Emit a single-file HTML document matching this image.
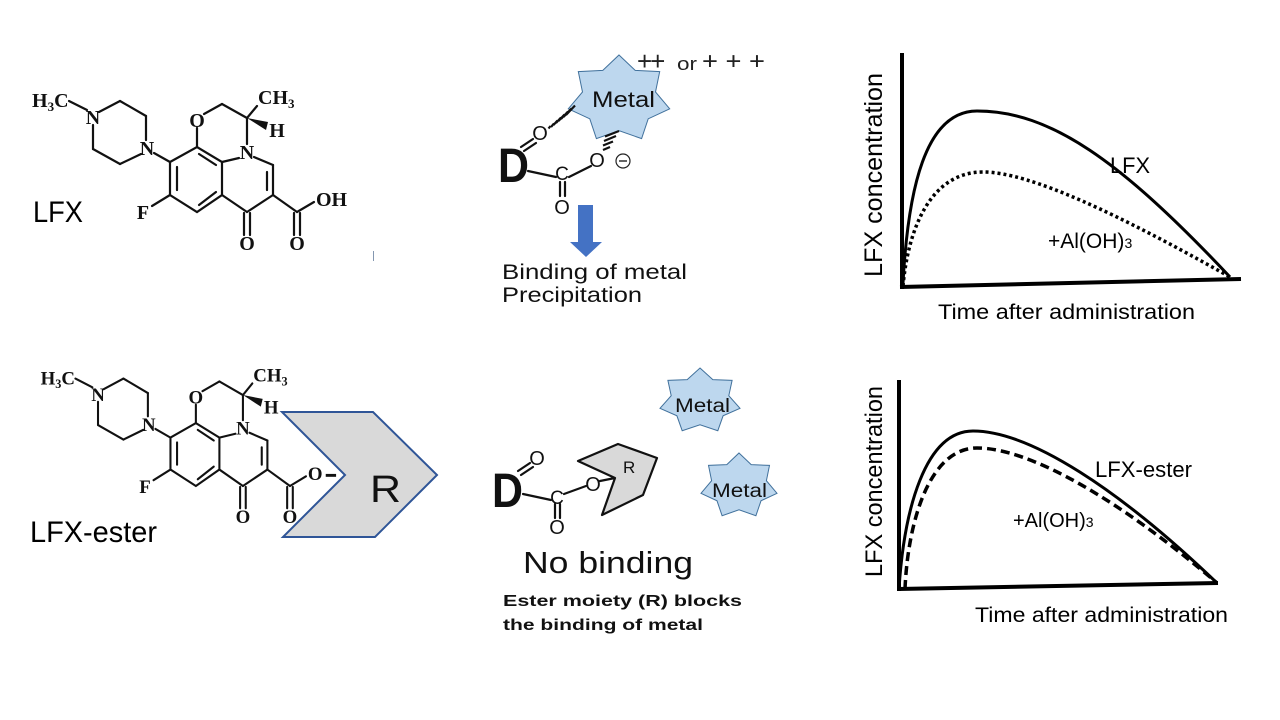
<!DOCTYPE html>
<html><head><meta charset="utf-8"><style>
html,body{margin:0;padding:0;background:#fff;}
svg{display:block;}
.s{font-family:"Liberation Sans",sans-serif;}
.a{font-family:"Liberation Serif",serif;font-weight:bold;font-size:20px;fill:#111;}
.b{stroke:#111;stroke-width:2.2;fill:none;stroke-linecap:round;}
</style></head><body>
<svg width="1280" height="720" viewBox="0 0 1280 720" xmlns="http://www.w3.org/2000/svg">
<rect width="1280" height="720" fill="#fff"/>

<!-- ============ TOP MOLECULE (LFX) ============ -->
<g>
 <g class="b">
  <line x1="69" y1="101" x2="87" y2="110"/>
  <line x1="99" y1="112" x2="120" y2="101"/>
  <line x1="120" y1="101" x2="146" y2="116"/>
  <line x1="146" y1="116" x2="146" y2="140"/>
  <line x1="141" y1="154" x2="120" y2="164"/>
  <line x1="120" y1="164" x2="93" y2="149"/>
  <line x1="93" y1="149" x2="93" y2="125"/>
  <line x1="154" y1="153" x2="170" y2="162"/>
  <polygon points="170,162 197,147 222,162 222,195 197,212 170,195"/>
  <line x1="177" y1="167" x2="177" y2="190"/>
  <line x1="199" y1="154" x2="216" y2="165"/>
  <line x1="199" y1="205" x2="216" y2="192"/>
  <line x1="170" y1="195" x2="152" y2="206"/>
  <line x1="197" y1="147" x2="197" y2="128"/>
  <line x1="204" y1="114" x2="222" y2="104"/>
  <line x1="222" y1="104" x2="247" y2="118"/>
  <line x1="247" y1="118" x2="257" y2="106"/>
  <line x1="247" y1="118" x2="247" y2="144"/>
  <line x1="239" y1="158" x2="222" y2="162"/>
  <line x1="254" y1="157" x2="273" y2="165"/>
  <line x1="273" y1="165" x2="273" y2="195"/>
  <line x1="267" y1="172" x2="267" y2="190"/>
  <line x1="273" y1="195" x2="247" y2="212"/>
  <line x1="247" y1="212" x2="222" y2="195"/>
  <line x1="244" y1="213" x2="244" y2="235"/>
  <line x1="250" y1="213" x2="250" y2="235"/>
  <line x1="273" y1="195" x2="297" y2="212"/>
  <line x1="297" y1="212" x2="314" y2="202"/>
  <line x1="294" y1="213" x2="294" y2="235"/>
  <line x1="300" y1="213" x2="300" y2="235"/>
 </g>
 <polygon points="247,118 268,122 266,130" fill="#111"/>
 <text class="a" x="32" y="107">H<tspan font-size="13" dy="4">3</tspan><tspan dy="-4">C</tspan></text>
 <text class="a" x="93" y="124" text-anchor="middle">N</text>
 <text class="a" x="147" y="155" text-anchor="middle">N</text>
 <text class="a" x="197" y="127" text-anchor="middle">O</text>
 <text class="a" x="258" y="104">CH<tspan font-size="13" dy="4">3</tspan></text>
 <text class="a" x="277" y="137" text-anchor="middle">H</text>
 <text class="a" x="247" y="159" text-anchor="middle">N</text>
 <text class="a" x="143" y="219" text-anchor="middle">F</text>
 <text class="a" x="247" y="250" text-anchor="middle">O</text>
 <text class="a" x="297" y="250" text-anchor="middle">O</text>
 <text class="a" x="316" y="206">OH</text>
</g>
<line x1="373.5" y1="251" x2="373.5" y2="261" stroke="#8497b0" stroke-width="1"/>
<text class="s" x="33" y="222" font-size="30" textLength="50" lengthAdjust="spacingAndGlyphs">LFX</text>

<!-- ============ BOTTOM MOLECULE (LFX-ester) ============ -->
<g transform="translate(10.5,280.8) scale(0.941,0.968)">
 <g class="b">
  <line x1="69" y1="101" x2="87" y2="110"/>
  <line x1="99" y1="112" x2="120" y2="101"/>
  <line x1="120" y1="101" x2="146" y2="116"/>
  <line x1="146" y1="116" x2="146" y2="140"/>
  <line x1="141" y1="154" x2="120" y2="164"/>
  <line x1="120" y1="164" x2="93" y2="149"/>
  <line x1="93" y1="149" x2="93" y2="125"/>
  <line x1="154" y1="153" x2="170" y2="162"/>
  <polygon points="170,162 197,147 222,162 222,195 197,212 170,195"/>
  <line x1="177" y1="167" x2="177" y2="190"/>
  <line x1="199" y1="154" x2="216" y2="165"/>
  <line x1="199" y1="205" x2="216" y2="192"/>
  <line x1="170" y1="195" x2="152" y2="206"/>
  <line x1="197" y1="147" x2="197" y2="128"/>
  <line x1="204" y1="114" x2="222" y2="104"/>
  <line x1="222" y1="104" x2="247" y2="118"/>
  <line x1="247" y1="118" x2="257" y2="106"/>
  <line x1="247" y1="118" x2="247" y2="144"/>
  <line x1="239" y1="158" x2="222" y2="162"/>
  <line x1="254" y1="157" x2="273" y2="165"/>
  <line x1="273" y1="165" x2="273" y2="195"/>
  <line x1="267" y1="172" x2="267" y2="190"/>
  <line x1="273" y1="195" x2="247" y2="212"/>
  <line x1="247" y1="212" x2="222" y2="195"/>
  <line x1="244" y1="213" x2="244" y2="235"/>
  <line x1="250" y1="213" x2="250" y2="235"/>
  <line x1="273" y1="195" x2="297" y2="212"/>
  <line x1="297" y1="212" x2="314" y2="202"/>
  <line x1="294" y1="213" x2="294" y2="235"/>
  <line x1="300" y1="213" x2="300" y2="235"/>
 </g>
 <line x1="335" y1="201" x2="346" y2="201" stroke="#111" stroke-width="3"/>
 <polygon points="247,118 268,122 266,130" fill="#111"/>
 <text class="a" x="32" y="107">H<tspan font-size="13" dy="4">3</tspan><tspan dy="-4">C</tspan></text>
 <text class="a" x="93" y="124" text-anchor="middle">N</text>
 <text class="a" x="147" y="155" text-anchor="middle">N</text>
 <text class="a" x="197" y="127" text-anchor="middle">O</text>
 <text class="a" x="258" y="104">CH<tspan font-size="13" dy="4">3</tspan></text>
 <text class="a" x="277" y="137" text-anchor="middle">H</text>
 <text class="a" x="247" y="159" text-anchor="middle">N</text>
 <text class="a" x="143" y="219" text-anchor="middle">F</text>
 <text class="a" x="247" y="250" text-anchor="middle">O</text>
 <text class="a" x="297" y="250" text-anchor="middle">O</text>
 <text class="a" x="316" y="206">O</text>
</g>
<polygon points="282,412 373,412 437,475 375,537 283,537 345,475" fill="#d9d9d9" stroke="#2f5597" stroke-width="2" stroke-linejoin="miter"/>
<text class="s" x="370" y="502" font-size="38" textLength="31" lengthAdjust="spacingAndGlyphs" fill="#111">R</text>
<text class="s" x="30" y="542" font-size="30" textLength="127" lengthAdjust="spacingAndGlyphs">LFX-ester</text>

<!-- ============ MIDDLE TOP ============ -->
<polygon points="619,55 635.2,70.4 659.7,71.6 655.5,92 669.7,108.8 648.2,118.8 641.6,138.6 619,130.7 596.4,138.6 589.8,118.8 568.3,108.8 582.5,92 578.3,71.6 602.8,70.4" fill="#bdd7ee" stroke="#41719c" stroke-width="1"/>
<text class="s" x="592" y="107" font-size="22" textLength="63" lengthAdjust="spacingAndGlyphs" fill="#111">Metal</text>
<text class="s" x="637" y="70" font-size="26" letter-spacing="-2" fill="#222">++</text>
<text class="s" x="677" y="70" font-size="18" textLength="20" lengthAdjust="spacingAndGlyphs" fill="#222">or</text>
<text class="s" x="702" y="69" font-size="24" textLength="63" lengthAdjust="spacingAndGlyphs" fill="#222">+ + +</text>

<text class="s" x="498" y="182" font-size="48" font-weight="bold" textLength="31" lengthAdjust="spacingAndGlyphs" fill="#111">D</text>
<g class="b">
 <line x1="521" y1="147" x2="533" y2="139"/>
 <line x1="524" y1="151" x2="536" y2="143"/>
 <line x1="528" y1="171" x2="556" y2="177"/>
 <line x1="569" y1="177" x2="591" y2="166"/>
 <line x1="560" y1="182" x2="560" y2="196"/>
 <line x1="565" y1="182" x2="565" y2="196"/>
</g>
<g stroke="#111" stroke-width="2.2">
 <line x1="548.5" y1="128.5" x2="550.5" y2="126"/>
 <line x1="551" y1="127" x2="554" y2="123.5"/>
 <line x1="553.5" y1="125" x2="557.5" y2="120.5"/>
 <line x1="556" y1="123" x2="561" y2="117.5"/>
 <line x1="558.5" y1="121" x2="564.5" y2="114.5"/>
 <line x1="561" y1="119" x2="568" y2="111.5"/>
 <line x1="563.5" y1="117" x2="571.5" y2="108.5"/>
 <line x1="566" y1="115" x2="575" y2="105.5"/>
 <line x1="603" y1="150" x2="610" y2="147"/>
 <line x1="603" y1="145.5" x2="613" y2="141.5"/>
 <line x1="604" y1="141" x2="616" y2="136"/>
 <line x1="605" y1="136.5" x2="619" y2="131"/>
</g>
<text class="s" x="540" y="140" font-size="20" text-anchor="middle" fill="#111">O</text>
<text class="s" x="562" y="180" font-size="19" text-anchor="middle" fill="#111">C</text>
<text class="s" x="597" y="167" font-size="20" text-anchor="middle" fill="#111">O</text>
<text class="s" x="562" y="214" font-size="20" text-anchor="middle" fill="#111">O</text>
<circle cx="623" cy="161" r="7" fill="none" stroke="#222" stroke-width="1.2"/>
<line x1="619" y1="161" x2="627" y2="161" stroke="#222" stroke-width="1.4"/>

<polygon points="578,205 593,205 593,242 602,242 586,257 570,242 578,242" fill="#4472c4"/>
<text class="s" x="502" y="279" font-size="21" textLength="185" lengthAdjust="spacingAndGlyphs" fill="#111">Binding of metal</text>
<text class="s" x="502" y="302" font-size="21" textLength="140" lengthAdjust="spacingAndGlyphs" fill="#111">Precipitation</text>

<!-- ============ MIDDLE BOTTOM ============ -->
<polygon points="700,368 712.8,379.6 732.1,380.4 728.8,395.7 740,408.3 723.1,415.8 717.8,430.7 700,424.8 682.2,430.7 676.9,415.8 660,408.3 671.2,395.7 667.9,380.4 687.2,379.6" fill="#bdd7ee" stroke="#41719c" stroke-width="1"/>
<text class="s" x="675" y="412" font-size="19" textLength="55" lengthAdjust="spacingAndGlyphs" fill="#111">Metal</text>
<polygon points="739,453 751.2,464.6 769.5,465.4 766.4,480.7 777,493.3 761,500.8 755.9,515.7 739,509.8 722.1,515.7 717,500.8 701,493.3 711.6,480.7 708.5,465.4 726.8,464.6" fill="#bdd7ee" stroke="#41719c" stroke-width="1"/>
<text class="s" x="712" y="497" font-size="19" textLength="55" lengthAdjust="spacingAndGlyphs" fill="#111">Metal</text>

<text class="s" x="492" y="507" font-size="48" font-weight="bold" textLength="31" lengthAdjust="spacingAndGlyphs" fill="#111">D</text>
<g class="b">
 <line x1="518" y1="471" x2="530" y2="463"/>
 <line x1="521" y1="475" x2="533" y2="467"/>
 <line x1="523" y1="494" x2="551" y2="500"/>
 <line x1="564" y1="494" x2="586" y2="486"/>
 <line x1="600" y1="481" x2="615" y2="478"/>
 <line x1="555" y1="504" x2="555" y2="518"/>
 <line x1="560" y1="504" x2="560" y2="518"/>
</g>
<polygon points="578,461 618,444 657,458 643,495 602,515 615,478" fill="#d9d9d9" stroke="#111" stroke-width="2.2" stroke-linejoin="round"/>
<text class="s" x="623" y="473" font-size="17" fill="#111">R</text>
<text class="s" x="537" y="465" font-size="20" text-anchor="middle" fill="#111">O</text>
<text class="s" x="557" y="504" font-size="19" text-anchor="middle" fill="#111">C</text>
<text class="s" x="593" y="491" font-size="20" text-anchor="middle" fill="#111">O</text>
<text class="s" x="557" y="534" font-size="20" text-anchor="middle" fill="#111">O</text>

<text class="s" x="523" y="573" font-size="31" textLength="170" lengthAdjust="spacingAndGlyphs" fill="#111">No binding</text>
<text class="s" x="503" y="606" font-size="16" font-weight="bold" textLength="239" lengthAdjust="spacingAndGlyphs" fill="#111">Ester moiety (R) blocks</text>
<text class="s" x="503" y="630" font-size="16" font-weight="bold" textLength="200" lengthAdjust="spacingAndGlyphs" fill="#111">the binding of metal</text>

<!-- ============ TOP GRAPH ============ -->
<line x1="902" y1="53" x2="902" y2="289" stroke="#000" stroke-width="4"/>
<line x1="900" y1="287" x2="1241" y2="279" stroke="#000" stroke-width="4"/>
<path d="M903,283 C908,190 925,111 977,111 C1050,111 1120,160 1230,277" fill="none" stroke="#000" stroke-width="3"/>
<path d="M903,286 C908,230 930,172 983,172 C1030,172 1120,215 1230,277" fill="none" stroke="#000" stroke-width="3.5" stroke-dasharray="3 3"/>
<text class="s" transform="translate(882,277) rotate(-90)" font-size="25" textLength="204" lengthAdjust="spacingAndGlyphs" fill="#000">LFX concentration</text>
<text class="s" x="938" y="319" font-size="21" textLength="257" lengthAdjust="spacingAndGlyphs" fill="#000">Time after administration</text>
<text class="s" x="1110" y="173" font-size="22" textLength="40" lengthAdjust="spacingAndGlyphs" fill="#000">LFX</text>
<text class="s" x="1048" y="248" font-size="21" fill="#000">+Al(OH)<tspan font-size="14">3</tspan></text>

<!-- ============ BOTTOM GRAPH ============ -->
<line x1="899" y1="380" x2="899" y2="591" stroke="#000" stroke-width="4"/>
<line x1="898" y1="589" x2="1218" y2="583" stroke="#000" stroke-width="4"/>
<path d="M899,589 C904,510 925,431 973,431 C1030,431 1120,490 1217,583" fill="none" stroke="#000" stroke-width="3"/>
<path d="M905,589 C908,520 930,448 977,448 C1030,448 1120,500 1217,583" fill="none" stroke="#000" stroke-width="3.5" stroke-dasharray="9 5"/>
<text class="s" transform="translate(882,577) rotate(-90)" font-size="24" textLength="191" lengthAdjust="spacingAndGlyphs" fill="#000">LFX concentration</text>
<text class="s" x="975" y="622" font-size="21" textLength="253" lengthAdjust="spacingAndGlyphs" fill="#000">Time after administration</text>
<text class="s" x="1095" y="477" font-size="22" textLength="97" lengthAdjust="spacingAndGlyphs" fill="#000">LFX-ester</text>
<text class="s" x="1013" y="527" font-size="20" fill="#000">+Al(OH)<tspan font-size="14">3</tspan></text>
</svg>
</body></html>
